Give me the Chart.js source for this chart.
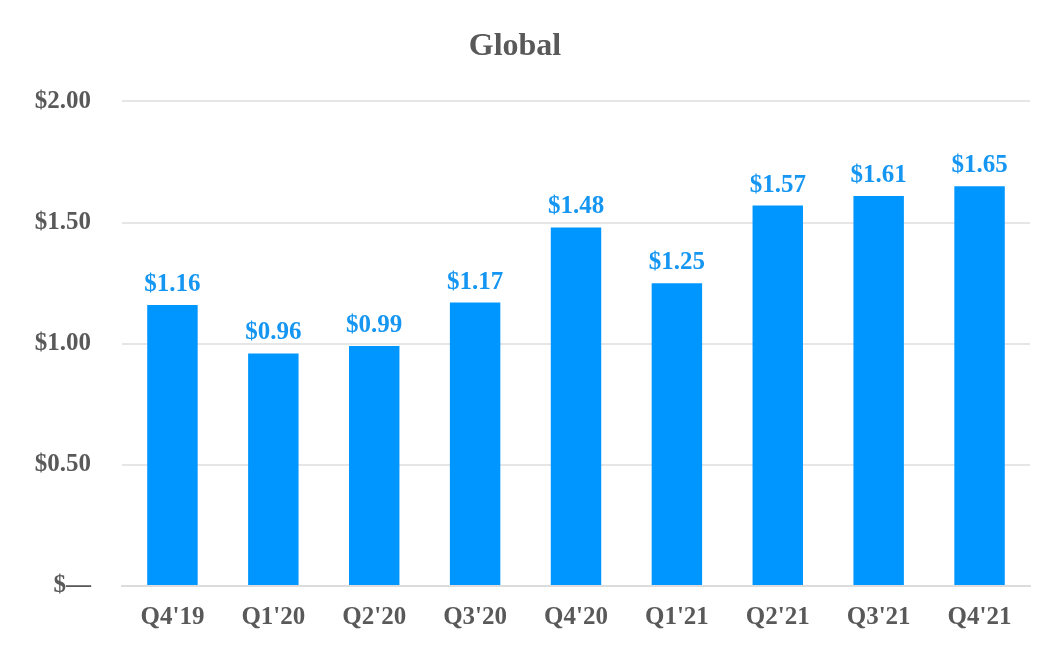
<!DOCTYPE html>
<html>
<head>
<meta charset="utf-8">
<script src="https://cdn.jsdelivr.net/npm/chart.js@4/dist/chart.umd.min.js"></script>
<style>
html,body{margin:0;padding:0;background:#fff;}
#wrap{width:1060px;height:660px;}
</style>
</head>
<body>
<div id="wrap"><canvas id="c" width="1060" height="660"></canvas></div>
<script>
const categories = ["Q4'19","Q1'20","Q2'20","Q3'20","Q4'20","Q1'21","Q2'21","Q3'21","Q4'21"];
const values = [1.16,0.96,0.99,1.17,1.48,1.25,1.57,1.61,1.65];
const yTicks = [0,0.5,1.0,1.5,2.0];
const titleText = "Global";

const FONT = "'Liberation Serif','Times New Roman',serif";
const GRAY = "#595959";
const BAR = "#0096FF";
const LABEL = "#1596F2";

const fmt = v => v === 0 ? "$\u2014" : "$" + v.toFixed(2);

const valueLabels = {
  id: "valueLabels",
  afterDatasetsDraw(chart) {
    const ctx = chart.ctx;
    const meta = chart.getDatasetMeta(0);
    ctx.save();
    ctx.font = "bold 25px " + FONT;
    ctx.fillStyle = LABEL;
    ctx.textAlign = "center";
    ctx.textBaseline = "alphabetic";
    meta.data.forEach((bar, i) => {
      ctx.fillText(fmt(values[i]), bar.x, bar.y - 14);
    });
    ctx.restore();
  }
};

new Chart(document.getElementById("c"), {
  type: "bar",
  data: {
    labels: categories,
    datasets: [{
      data: values,
      backgroundColor: BAR,
      borderWidth: 0,
      barPercentage: 0.5,
      categoryPercentage: 1.0
    }]
  },
  options: {
    responsive: false,
    animation: false,
    devicePixelRatio: 1,
    layout: { padding: { left: 0, right: 30, top: 0, bottom: 10 } },
    plugins: {
      legend: { display: false },
      tooltip: { enabled: false },
      title: {
        display: true,
        text: titleText,
        color: GRAY,
        font: { family: FONT, size: 32, weight: "bold" },
        padding: { top: 28, bottom: 35 }
      }
    },
    scales: {
      x: {
        grid: { display: false, drawTicks: false },
        border: { display: true, color: "#dcdcdc", width: 2 },
        ticks: {
          color: GRAY,
          font: { family: FONT, size: 25, weight: "bold" },
          padding: 17,
          maxRotation: 0
        }
      },
      y: {
        min: 0,
        max: 2,
        afterBuildTicks(scale) {
          scale.ticks = yTicks.map(v => ({ value: v }));
        },
        afterFit(scale) { scale.width = 122; },
        grid: { color: "#e6e6e6", lineWidth: 2, drawTicks: false },
        border: { display: false },
        ticks: {
          color: GRAY,
          font: { family: FONT, size: 25, weight: "bold" },
          padding: 31,
          callback: v => fmt(v)
        }
      }
    }
  },
  plugins: [valueLabels]
});
</script>
</body>
</html>
